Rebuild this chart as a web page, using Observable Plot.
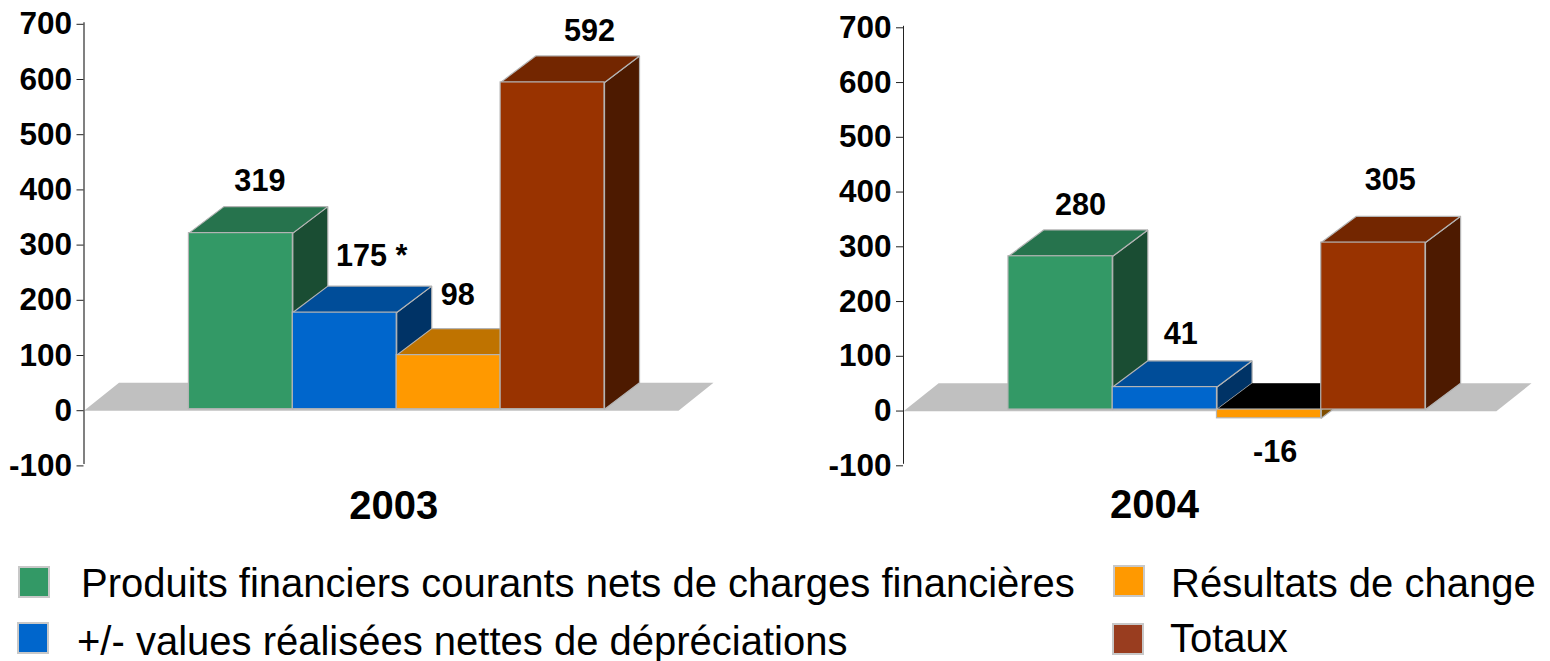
<!DOCTYPE html>
<html lang="fr">
<head>
<meta charset="utf-8">
<script src="https://cdn.jsdelivr.net/npm/d3@7"></script>
<script src="https://cdn.jsdelivr.net/npm/@observablehq/plot@0.6"></script>
<style>
html, body { margin: 0; padding: 0; background: #fff; overflow: hidden; }
#page { position: relative; width: 1550px; height: 661px; font-family: "Liberation Sans", Arial, sans-serif; }
#page svg { position: absolute; top: 0; overflow: visible; background: transparent; }
.swatch { position: absolute; width: 28px; height: 28px; border: 2px solid #c8c8c8; }
.legend-text { position: absolute; font-size: 40px; line-height: 40px; color: #000; white-space: nowrap; }
</style>
</head>
<body>
<div id="page"></div>
<script>
// ---- Data
const categories = [
  "Produits financiers courants nets de charges financières",
  "+/- values réalisées nettes de dépréciations",
  "Résultats de change",
  "Totaux"
];
const values2003 = [319, 175, 98, 592];
const values2004 = [280, 41, -16, 305];
const labels2003 = ["319", "175 *", "98", "592"];
const labels2004 = ["280", "41", "-16", "305"];
const tickValues = [-100, 0, 100, 200, 300, 400, 500, 600, 700];

// ---- Styles
const frontColors = ["#339966", "#0066cc", "#ff9900", "#993300"];
const topColors = ["#26734d", "#004d99", "#bf7300", "#732600"];
const sideColors = ["#1a4d33", "#003366", "#804d00", "#4d1a00"];
const legendColors = ["#339966", "#0066cc", "#ff9900", "#993d1f"];
const edge = "#b4b4b4";
const floorColor = "#c0c0c0";
const font = {fontFamily: "'Liberation Sans', Arial, sans-serif", fontWeight: "bold", fill: "#000"};

// depth of the 3D extrusion, in data units of the two scales
const depthX = 0.337;
const depthY = 48;

function polygon(points, fill, stroke) {
  const closed = [...points, points[0]];
  return Plot.line(closed, {x: "0", y: "1", fill, stroke: stroke ?? "none", strokeWidth: 1.2, strokeLinejoin: "miter"});
}

function panel({values, labels, year, left, width, marginLeft, marginRight, marginTop, height, marginBottom,
                xDomain, axisStroke, axisWidth, labelOffsets, yearDx, yearDy}) {
  const marks = [];
  const floorX0 = xDomain[0], floorX1 = xDomain[1];
  // floor
  marks.push(polygon([
    [floorX0, -3], [floorX1 - depthX, -3], [floorX1, depthY], [floorX0 + depthX, depthY]
  ], floorColor));
  // bars, drawn from left to right so that the later ones hide the earlier ones' sides
  values.forEach((v, i) => {
    const hi = Math.max(v, 0), lo = Math.min(v, 0);
    const negative = v < 0;
    marks.push(polygon([[i + 1, lo], [i + 1 + depthX, lo + depthY], [i + 1 + depthX, hi + depthY], [i + 1, hi]], sideColors[i], edge));
    marks.push(polygon([[i, hi], [i + depthX, hi + depthY], [i + 1 + depthX, hi + depthY], [i + 1, hi]], negative ? "#000" : topColors[i], negative ? "none" : edge));
    marks.push(Plot.rect([v], {x1: () => i, x2: () => i + 1, y1: () => lo, y2: () => hi, fill: frontColors[i], stroke: edge, strokeWidth: 1.2}));
  });
  // axis
  marks.push(Plot.ruleX([xDomain[0]], {y1: -100, y2: 700, stroke: axisStroke, strokeWidth: axisWidth}));
  marks.push(Plot.axisY({
    ticks: tickValues, tickFormat: String, tickSize: 7, tickPadding: 5, label: null, anchor: "left",
    fontFamily: font.fontFamily, fontWeight: "bold", fontSize: 31.5, color: "#000", stroke: "#222", textStroke: "none", dy: 1.5
  }));
  // value labels
  values.forEach((v, i) => {
    const [dx, dy] = labelOffsets[i];
    marks.push(Plot.text([labels[i]], {
      x: () => i + 0.5, y: () => v, text: d => d, dx, dy, ...font, fontSize: 30.6, lineAnchor: "middle", textAnchor: "middle"
    }));
  });
  // year title
  marks.push(Plot.text([year], {text: d => d, frameAnchor: "bottom", dx: yearDx, dy: yearDy, ...font, fontSize: 40, lineAnchor: "middle"}));

  const svg = Plot.plot({
    width, height, marginLeft, marginRight, marginTop, marginBottom,
    x: {domain: xDomain, axis: null},
    y: {domain: [-100, 700], axis: null},
    style: {background: "transparent", overflow: "visible"},
    marks
  });
  svg.style.left = left + "px";
  return svg;
}

const page = document.getElementById("page");

page.append(panel({
  values: values2003, labels: labels2003, year: "2003",
  left: 0, width: 775, height: 530, marginLeft: 83.5, marginRight: 62, marginTop: 22.3, marginBottom: 66.1,
  xDomain: [-1.01, 5.049], axisStroke: "#808080", axisWidth: 2,
  labelOffsets: [[19, -52], [27, -56], [9, -60], [37, -51]], yearDx: -5, yearDy: 41.5
}));
page.append(panel({
  values: values2004, labels: labels2004, year: "2004",
  left: 775, width: 775, height: 530, marginLeft: 128, marginRight: 19, marginTop: 25.8, marginBottom: 66.2,
  xDomain: [-1.007, 5.017], axisStroke: "#222", axisWidth: 1,
  labelOffsets: [[20, -51], [16, -53], [6, 34], [17, -62]], yearDx: -63, yearDy: 40.5
}));

// ---- Legend
const swatchPlaces = [[18, 566], [17, 622], [1113, 565], [1112, 623]];
const textPlaces = [[81, 563], [77, 621], [1171, 563], [1170, 618]];
categories.forEach((name, i) => {
  const sw = document.createElement("div");
  sw.className = "swatch";
  sw.style.left = swatchPlaces[i][0] + "px";
  sw.style.top = swatchPlaces[i][1] + "px";
  sw.style.background = legendColors[i];
  page.append(sw);
  const t = document.createElement("div");
  t.className = "legend-text";
  t.style.left = textPlaces[i][0] + "px";
  t.style.top = textPlaces[i][1] + "px";
  t.textContent = name;
  page.append(t);
});
</script>
</body>
</html>
